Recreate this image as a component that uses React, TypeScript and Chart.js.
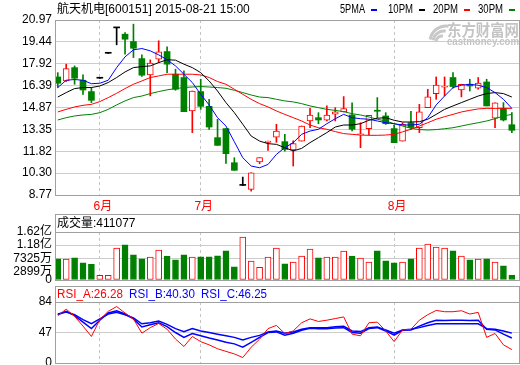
import React, { useEffect, useRef } from "react";
import { Chart, registerables } from "chart.js";

Chart.register(...registerables);

// ---------- text ----------
const TITLE = "航天机电[600151] 2015-08-21 15:00";
const LEGEND_LABELS = ["5PMA", "10PM", "20PM", "30PM"];
const VOLUME_HEADER = "成交量:411077";
const RSI_HEADERS = ["RSI_A:26.28", "RSI_B:40.30", "RSI_C:46.25"];

// ---------- axes ----------
const monthTickIndex = [5, 17, 40];
const monthTickLabels = ["6月", "7月", "8月"];
const priceTicks = [8.77, 10.3, 11.82, 13.35, 14.87, 16.39, 17.92, 19.44, 20.97];
const priceTickLabels = ["8.77", "10.30", "11.82", "13.35", "14.87", "16.39", "17.92", "19.44", "20.97"];
const volTicks = [0, 2899, 7325, 11800, 16200]; // 万
const volTickLabels = ["0", "2899万", "7325万", "1.18亿", "1.62亿"];
const rsiTicks = [10, 47, 84];
const rsiTickLabels = ["0", "47", "84"];

// ---------- daily prices ----------
const opens = [17.0, 16.72, 17.65, 16.77, 15.98, 16.91, 18.65, 20.42, 19.98, 19.47,
  18.28, 17.14, 18.24, 18.77, 17.19, 16.96, 14.63, 15.98, 14.95, 12.77,
  13.4, 11.02, 9.44, 9.16, 11.07, 12.44, 12.81, 12.49, 11.91, 12.53,
  13.93, 14.16, 13.98, 14.4, 14.56, 14.35, 12.95, 13.4, 14.68, 14.28,
  13.4, 12.53, 13.81, 13.47, 14.86, 15.84, 16.28, 16.96, 16.09, 16.49,
  16.21, 16.65, 14.12, 14.81, 13.67];
const highs = [17.3, 17.89, 17.77, 17.14, 16.26, 16.91, 18.65, 20.42, 20.1, 20.68,
  18.54, 18.19, 19.52, 19.1, 17.54, 17.42, 16.02, 16.84, 15.44, 14.05,
  13.4, 11.37, 10.02, 10.32, 11.37, 12.53, 13.7, 13.0, 12.55, 13.58,
  14.81, 14.51, 14.98, 14.86, 15.63, 15.19, 13.81, 14.33, 15.56, 14.51,
  13.65, 13.81, 14.6, 15.09, 16.14, 17.0, 17.0, 17.3, 16.49, 16.84,
  16.96, 16.84, 15.19, 15.21, 14.51];
const lows = [16.26, 16.68, 16.49, 15.79, 15.21, 16.91, 18.65, 19.24, 18.58, 18.35,
  17.03, 15.68, 18.0, 17.3, 16.07, 14.58, 13.12, 14.74, 13.35, 12.23,
  10.97, 10.49, 9.44, 9.04, 10.95, 11.88, 12.44, 11.83, 10.79, 12.53,
  13.47, 13.74, 13.93, 13.93, 14.56, 13.23, 12.07, 12.95, 14.16, 13.69,
  12.42, 12.53, 13.32, 13.12, 14.86, 15.44, 15.68, 16.21, 15.61, 16.02,
  16.14, 14.98, 13.47, 13.93, 13.12];
const closes = [16.56, 17.58, 16.91, 16.09, 15.37, 16.91, 18.65, 20.42, 19.63, 19.0,
  17.12, 17.96, 18.75, 17.89, 16.14, 14.58, 16.02, 14.95, 13.51, 12.23,
  11.65, 10.49, 9.44, 10.32, 11.37, 12.53, 13.23, 11.95, 12.35, 13.58,
  14.35, 14.0, 14.35, 14.56, 14.79, 13.35, 13.04, 14.33, 14.61, 13.74,
  12.42, 13.7, 13.47, 14.56, 15.61, 16.44, 16.33, 16.33, 16.49, 16.37,
  16.58, 14.98, 15.19, 14.0, 13.28];

// ---------- moving averages ----------
const ma5 = [16.26, 16.77, 16.82, 16.77, 16.53, 16.56, 16.77, 17.65, 18.4, 18.89,
  18.98, 18.82, 18.54, 18.2, 17.77, 17.19, 16.61, 15.79, 15.05, 14.16,
  13.58, 12.48, 11.37, 10.79, 10.67, 10.9, 11.6, 12.07, 12.42, 13.0,
  13.23, 13.35, 13.74, 14.09, 14.39, 14.16, 14.09, 14.05, 13.93, 13.81,
  13.74, 13.65, 13.65, 13.7, 14.16, 15.05, 15.67, 16.26, 16.42, 16.49,
  16.42, 16.26, 15.91, 15.44, 14.81];
const ma10 = [15.6, 15.91, 16.19, 16.26, 16.26, 16.37, 16.61, 16.96, 17.35, 17.65,
  17.72, 17.77, 18.0, 18.2, 18.17, 17.89, 17.65, 17.3, 16.72, 16.02,
  15.21, 14.51, 13.7, 12.88, 12.53, 12.35, 12.3, 12.07, 11.84, 12.02,
  12.42, 12.77, 13.12, 13.51, 13.65, 13.65, 13.74, 13.98, 14.12, 14.16,
  13.98, 13.86, 13.86, 13.88, 14.05, 14.39, 14.74, 14.98, 15.21, 15.44,
  15.67, 15.84, 15.91, 15.84, 15.6];
const ma20 = [14.56, 14.74, 14.91, 15.02, 15.09, 15.28, 15.56, 15.86, 16.19, 16.49,
  16.72, 16.96, 17.07, 17.19, 17.19, 17.19, 17.19, 17.14, 16.96, 16.68,
  16.49, 16.14, 15.79, 15.44, 15.14, 14.91, 14.63, 14.39, 14.16, 13.93,
  13.65, 13.46, 13.35, 13.19, 13.05, 13.0, 12.95, 12.93, 12.93, 12.95,
  13.0, 13.17, 13.35, 13.58, 13.81, 14.05, 14.23, 14.39, 14.56, 14.67,
  14.77, 14.81, 14.81, 14.81, 14.81];
const ma30 = [14.0, 14.16, 14.28, 14.35, 14.39, 14.51, 14.74, 15.05, 15.33, 15.56,
  15.67, 15.84, 15.98, 16.1, 16.19, 16.26, 16.3, 16.33, 16.3, 16.26,
  16.21, 16.07, 15.91, 15.74, 15.6, 15.56, 15.44, 15.33, 15.26, 15.14,
  14.98, 14.86, 14.74, 14.67, 14.58, 14.44, 14.35, 14.21, 14.05, 13.93,
  13.74, 13.58, 13.42, 13.33, 13.3, 13.33, 13.39, 13.46, 13.58, 13.7,
  13.81, 13.93, 14.09, 14.28, 14.39];

// ---------- volume (万) ----------
const volumes = [7130, 7020, 7470, 5770, 5320, 1590, 1590, 10760, 11890, 8490,
  7130, 7700, 10080, 8040, 6790, 8490, 7700, 7810, 7810, 8150,
  9850, 4410, 14500, 6350, 4310, 7700, 10760, 5430, 6010, 8040,
  10420, 7470, 7700, 7700, 9750, 8040, 7360, 6010, 9850, 6450,
  5770, 6010, 7130, 10760, 12120, 11100, 10760, 9850, 8040, 6790,
  7020, 7130, 6010, 4750, 1700];

// ---------- RSI ----------
const rsiA = [67.5, 75.3, 66.7, 54.8, 42.2, 62.7, 72.6, 78.5, 70.6, 63.5,
  46.2, 52.9, 58.0, 50.9, 39.1, 30.0, 42.2, 35.9, 32.0, 27.3,
  24.1, 21.0, 16.6, 29.2, 38.9, 51.7, 55.6, 45.8, 48.9, 58.8,
  63.5, 60.4, 61.9, 63.9, 65.9, 45.0, 43.0, 58.8, 59.6, 48.9,
  35.9, 50.1, 50.9, 61.9, 68.6, 73.8, 72.2, 72.2, 73.4, 69.4,
  71.4, 41.1, 45.8, 32.0, 26.28];
const rsiB = [68.6, 72.6, 67.5, 59.6, 51.7, 61.9, 70.6, 73.4, 69.4, 63.5,
  53.7, 56.4, 58.8, 54.1, 47.0, 41.1, 45.8, 43.0, 40.3, 37.9,
  35.1, 33.2, 29.2, 35.1, 41.0, 47.0, 47.7, 43.8, 46.2, 49.7,
  52.1, 51.7, 51.7, 52.5, 52.9, 47.0, 46.2, 51.7, 52.9, 48.9,
  43.8, 49.7, 50.1, 54.8, 58.8, 61.9, 61.5, 61.9, 61.9, 61.5,
  61.9, 50.9, 50.1, 45.0, 40.3];
const rsiC = [69.4, 71.8, 68.6, 62.7, 57.6, 63.5, 69.4, 71.4, 68.6, 64.7,
  57.6, 58.8, 60.8, 56.8, 51.7, 48.1, 51.7, 48.9, 47.0, 45.0,
  43.0, 41.1, 37.9, 41.1, 43.5, 47.7, 48.9, 46.2, 47.7, 50.9,
  52.9, 52.9, 52.9, 54.1, 54.5, 48.9, 48.1, 52.9, 53.7, 50.1,
  46.2, 50.1, 50.9, 52.9, 55.6, 57.6, 57.6, 57.6, 57.6, 57.6,
  57.6, 51.7, 50.9, 48.9, 46.25];

// ---------- style ----------
const FONT = "'Liberation Sans', 'Noto Sans CJK SC', sans-serif";
const RED = "#ff0000";
const GREEN = "#008000";
const BLUE = "#0000ff";
const BLACK = "#000000";
const FRAME = "#a0a0a0";
const GRID = "#cccccc";
const X_MIN = -0.33;
const X_MAX = 54.85;

const idx = closes.map((_, i) => i);
const isUp = (i: number) => closes[i] > opens[i];
const isDown = (i: number) => closes[i] < opens[i];
const candleColor = (i: number) => (isUp(i) ? RED : isDown(i) ? GREEN : BLACK);
const volColor = (i: number) => (closes[i] >= opens[i] ? RED : GREEN);

function xScale(showLabels: boolean): any {
  return {
    type: "linear",
    min: X_MIN,
    max: X_MAX,
    offset: false,
    grid: { color: "#c4c4c4", lineWidth: 1, drawTicks: false, offset: false },
    border: { display: false, dash: [3, 3] },
    ticks: {
      display: showLabels,
      color: RED,
      font: { family: FONT, size: 12 },
      padding: 4,
      labelOffset: 3,
      autoSkip: false,
      maxRotation: 0,
      callback: (v: number) => {
        const k = monthTickIndex.indexOf(v);
        return k >= 0 ? monthTickLabels[k] : "";
      },
    },
    afterBuildTicks: (s: any) => {
      s.ticks = monthTickIndex.map((v) => ({ value: v }));
    },
    afterFit: (s: any) => {
      s.height = showLabels ? 20 : 0;
      s.paddingLeft = 0;
      s.paddingRight = 0;
    },
  };
}

function yScale(min: number, max: number, ticks: number[], labels: string[], gridOn: number[]): any {
  return {
    type: "linear",
    position: "left",
    min,
    max,
    grid: {
      color: (c: any) => (c.tick && gridOn.indexOf(c.tick.value) >= 0 ? GRID : "rgba(0,0,0,0)"),
      drawTicks: false,
      lineWidth: 1,
    },
    border: { display: false },
    ticks: {
      color: BLACK,
      font: { family: FONT, size: 12 },
      padding: 3,
      autoSkip: false,
      callback: (v: number) => {
        const k = ticks.indexOf(v);
        return k >= 0 ? labels[k] : "";
      },
    },
    afterBuildTicks: (s: any) => {
      s.ticks = ticks.map((v) => ({ value: v }));
    },
    afterFit: (s: any) => {
      s.width = 55;
      s.paddingTop = 0;
      s.paddingBottom = 0;
    },
  };
}

const baseOptions = {
  responsive: false,
  animation: false as const,
  events: [] as any[],
  plugins: { legend: { display: false }, tooltip: { enabled: false } },
};

function lineDs(label: string, data: number[], color: string, width = 1, order = 0): any {
  return {
    type: "line",
    label,
    data: idx.map((i) => ({ x: i, y: data[i] })),
    borderColor: color,
    borderWidth: width,
    pointRadius: 0,
    tension: 0,
    fill: false,
    order,
  };
}

const mainDecor = {
  id: "mainDecor",
  beforeDatasetsDraw(chart: any) {
    const ctx = chart.ctx;
    ctx.save();
    // watermark
    ctx.strokeStyle = "#c8c8c8";
    ctx.lineWidth = 3;
    for (let k = 0; k < 3; k++) {
      ctx.beginPath();
      ctx.arc(446 - k * 2, 42, 16 - k * 5, Math.PI * 1.05, Math.PI * 1.55);
      ctx.stroke();
    }
    ctx.fillStyle = "#c4c4c4";
    ctx.textBaseline = "middle";
    ctx.textAlign = "left";
    ctx.font = `bold 16px 'Noto Sans CJK SC'`;
    ctx.fillText("东方财富网", 447, 30, 72);
    ctx.font = `bold 11px 'Liberation Sans'`;
    ctx.fillText("eastmoney.com", 447, 41.5, 72);
    ctx.restore();
  },
  afterDraw(chart: any) {
    const { ctx, chartArea: a } = chart;
    ctx.save();
    ctx.strokeStyle = FRAME;
    ctx.lineWidth = 1;
    ctx.strokeRect(a.left + 0.5, a.top + 0.5, a.right - a.left, a.bottom - a.top);
    ctx.fillStyle = BLACK;
    ctx.textBaseline = "middle";
    ctx.textAlign = "left";
    ctx.font = `12px ${FONT}`;
    ctx.fillText(TITLE, 57, 10, 196);
    const textX = [340, 388, 433, 478];
    const dashX = [371, 419, 464, 509];
    const cols = [BLUE, BLACK, RED, GREEN];
    LEGEND_LABELS.forEach((t, k) => {
      ctx.fillStyle = BLACK;
      ctx.fillText(t, textX[k], 10, 25);
      ctx.fillStyle = cols[k];
      ctx.fillRect(dashX[k], 9, 6, 2);
    });
    ctx.restore();
  },
};

const volDecor = {
  id: "volDecor",
  afterDraw(chart: any) {
    const { ctx, chartArea: a } = chart;
    ctx.save();
    ctx.strokeStyle = FRAME;
    ctx.lineWidth = 1;
    ctx.strokeRect(a.left + 0.5, 1.5, a.right - a.left, a.top - 1);
    ctx.strokeRect(a.left + 0.5, a.top + 0.5, a.right - a.left, a.bottom - a.top);
    ctx.fillStyle = BLACK;
    ctx.textBaseline = "middle";
    ctx.font = `12px ${FONT}`;
    ctx.fillText(VOLUME_HEADER, 57, 10.5, 80);
    ctx.restore();
  },
};

const rsiDecor = {
  id: "rsiDecor",
  afterDraw(chart: any) {
    const { ctx, chartArea: a } = chart;
    ctx.save();
    ctx.strokeStyle = FRAME;
    ctx.lineWidth = 1;
    ctx.strokeRect(a.left + 0.5, 2.5, a.right - a.left, a.top - 2);
    ctx.strokeRect(a.left + 0.5, a.top + 0.5, a.right - a.left, a.bottom - a.top);
    ctx.textBaseline = "middle";
    ctx.font = `12px ${FONT}`;
    const xs = [57, 129, 201];
    const cs = [RED, BLUE, BLUE];
    RSI_HEADERS.forEach((t, k) => {
      ctx.fillStyle = cs[k];
      ctx.fillText(t, xs[k], 10.5, 66);
    });
    ctx.restore();
  },
};

function mainConfig(): any {
  return {
    type: "line",
    data: {
      datasets: [
        lineDs("MA5", ma5, BLUE),
        lineDs("MA10", ma10, BLACK),
        lineDs("MA20", ma20, RED),
        lineDs("MA30", ma30, GREEN),
        {
          type: "bar",
          label: "body",
          data: idx.map((i) => ({ x: i, y: [opens[i], closes[i]] })),
          backgroundColor: idx.map((i) => (isUp(i) ? "#ffffff" : candleColor(i))),
          borderColor: idx.map(candleColor),
          borderWidth: idx.map((i) => (isUp(i) ? 1 : 0)),
          borderSkipped: false,
          barThickness: 6,
          minBarLength: 1,
          grouped: false,
          order: 1,
        },
        {
          type: "bar",
          label: "upper",
          data: idx.map((i) => ({ x: i, y: [Math.max(opens[i], closes[i]), highs[i]] })),
          backgroundColor: idx.map(candleColor),
          borderWidth: 0,
          barThickness: 1,
          grouped: false,
          order: 2,
        },
        {
          type: "bar",
          label: "lower",
          data: idx.map((i) => ({ x: i, y: [lows[i], Math.min(opens[i], closes[i])] })),
          backgroundColor: idx.map(candleColor),
          borderWidth: 0,
          barThickness: 1,
          grouped: false,
          order: 2,
        },
      ],
    },
    options: {
      ...baseOptions,
      layout: { padding: { top: 20, left: 0, right: 1, bottom: 0 } },
      scales: {
        x: xScale(true),
        y: yScale(8.77, 20.97, priceTicks, priceTickLabels, priceTicks),
      },
    },
    plugins: [mainDecor],
  };
}

function volConfig(): any {
  return {
    type: "bar",
    data: {
      datasets: [
        {
          type: "bar",
          label: "volume",
          data: idx.map((i) => ({ x: i, y: volumes[i] })),
          backgroundColor: idx.map((i) => (volColor(i) === RED ? "#ffffff" : GREEN)),
          borderColor: idx.map(volColor),
          borderWidth: 1,
          borderSkipped: false,
          barThickness: 6,
          grouped: false,
        },
      ],
    },
    options: {
      ...baseOptions,
      layout: { padding: { top: 19, left: 0, right: 1, bottom: 7 } },
      scales: {
        x: xScale(false),
        y: yScale(0, 16200, volTicks, volTickLabels, [7325, 11800]),
      },
    },
    plugins: [volDecor],
  };
}

function rsiConfig(): any {
  return {
    type: "line",
    data: {
      datasets: [
        lineDs("RSI_A", rsiA, RED, 1, 0),
        lineDs("RSI_B", rsiB, BLUE, 1.5, 1),
        lineDs("RSI_C", rsiC, BLUE, 1.5, 2),
      ],
    },
    options: {
      ...baseOptions,
      layout: { padding: { top: 18, left: 0, right: 1, bottom: 2 } },
      scales: {
        x: xScale(false),
        y: yScale(10, 84, rsiTicks, rsiTickLabels, [47]),
      },
    },
    plugins: [rsiDecor],
  };
}

export default function App() {
  const mainRef = useRef<HTMLCanvasElement>(null);
  const volRef = useRef<HTMLCanvasElement>(null);
  const rsiRef = useRef<HTMLCanvasElement>(null);

  useEffect(() => {
    Chart.defaults.font.family = FONT;
    const charts: Chart[] = [];
    if (mainRef.current) charts.push(new Chart(mainRef.current, mainConfig()));
    if (volRef.current) charts.push(new Chart(volRef.current, volConfig()));
    if (rsiRef.current) charts.push(new Chart(rsiRef.current, rsiConfig()));
    return () => charts.forEach((c) => c.destroy());
  }, []);

  return (
    <div
      style={{
        position: "fixed",
        left: 0,
        top: 0,
        width: 520,
        height: 365,
        background: "#ffffff",
        overflow: "hidden",
      }}
    >
      <canvas ref={mainRef} width={520} height={215} style={{ position: "absolute", left: 0, top: 0 }} />
      <canvas ref={volRef} width={520} height={74} style={{ position: "absolute", left: 0, top: 213 }} />
      <canvas ref={rsiRef} width={520} height={81} style={{ position: "absolute", left: 0, top: 284 }} />
    </div>
  );
}
